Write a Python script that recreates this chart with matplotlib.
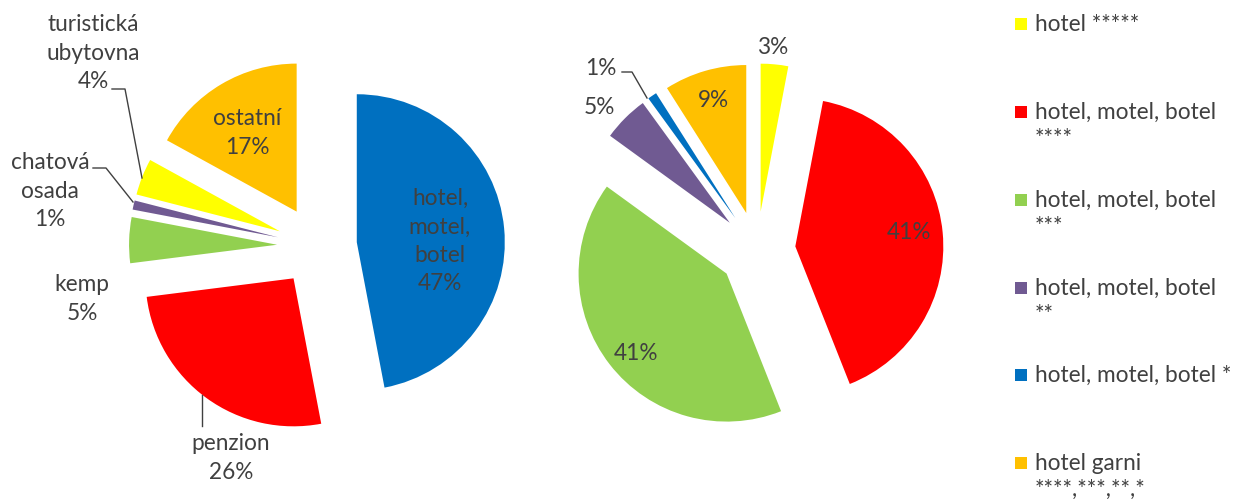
import matplotlib
matplotlib.use("Agg")
import matplotlib.pyplot as plt
from matplotlib.patches import Rectangle

plt.rcParams['font.family'] = ['Lato', 'DejaVu Sans']

# ---- data ----
left_labels = ["hotel,\nmotel,\nbotel", "penzion", "kemp", "chatová\nosada", "turistická\nubytovna", "ostatní"]
left_values = [47, 26, 5, 1, 4, 17]
left_colors = ["#0070C0", "#FF0000", "#92D050", "#705A92", "#FFFF00", "#FFC000"]

right_labels = ["hotel *****", "hotel, motel, botel\n****", "hotel, motel, botel\n***",
                "hotel, motel, botel\n**", "hotel, motel, botel *", "hotel garni\n****,***,**,*"]
right_values = [3, 41, 41, 5, 1, 9]
right_colors = ["#FFFF00", "#FF0000", "#92D050", "#705A92", "#0070C0", "#FFC000"]

W, H = 1235, 499
R = 148.0  # pie radius in pixels
TXT = "#404040"
FS = 16.3

fig = plt.figure(figsize=(W / 100, H / 100), dpi=100)


def make_axes(x0, x1, cx, cy):
    ax = fig.add_axes([x0 / W, 0, (x1 - x0) / W, 1])
    ax.set_axis_off()
    return ax


def fix_limits(ax, x0, x1, cx, cy):
    ax.set_xlim((x0 - cx) / R, (x1 - cx) / R)
    ax.set_ylim((cy - H) / R, cy / R)
    ax.set_aspect('auto')


def P(cx, cy, px, py):
    return ((px - cx) / R, (cy - py) / R)


# ---- left pie ----
lcx, lcy = 317, 246
axL = make_axes(0, 560, lcx, lcy)
axL.pie(left_values, colors=left_colors, startangle=90, counterclock=False,
        explode=[0.27] * len(left_values), radius=1.0,
        wedgeprops=dict(linewidth=0))
fix_limits(axL, 0, 560, lcx, lcy)

left_label_pos = [(440, 241), (231, 458), (82, 299), (50, 191), (93, 53), (247, 133)]
for lab, v, (px, py) in zip(left_labels, left_values, left_label_pos):
    axL.text(*P(lcx, lcy, px, py), f"{lab}\n{v}%", ha='center', va='center',
             fontsize=FS, color=TXT, linespacing=1.42)

for pts in ([(202, 395), (202, 426)],
            [(93, 168), (106, 168), (133, 202)],
            [(112, 89), (125, 89), (142, 178)]):
    xs, ys = zip(*[P(lcx, lcy, a, b) for a, b in pts])
    axL.plot(xs, ys, color="#404040", lw=1)

# ---- right pie ----
rcx, rcy = 757, 250
axR = make_axes(560, 1000, rcx, rcy)
axR.pie(right_values, colors=right_colors, startangle=90, counterclock=False,
        explode=[0.26] * len(right_values), radius=1.0,
        wedgeprops=dict(linewidth=0))
fix_limits(axR, 560, 1000, rcx, rcy)

right_label_pos = [(773, 47), (909, 232), (636, 353), (599, 107), (601, 68), (713, 100)]
for v, (px, py) in zip(right_values, right_label_pos):
    axR.text(*P(rcx, rcy, px, py), f"{v}%", ha='center', va='center',
             fontsize=FS, color=TXT)

xs, ys = zip(*[P(rcx, rcy, a, b) for a, b in [(622, 72), (632, 72), (647, 98)]])
axR.plot(xs, ys, color="#404040", lw=1)

# ---- legend ----
leg_y = [24, 112, 200, 288, 375, 463]
for lab, col, y in zip(right_labels, right_colors, leg_y):
    fig.patches.append(Rectangle((1015 / W, 1 - (y + 6) / H), 12 / W, 12 / H,
                                 transform=fig.transFigure, facecolor=col,
                                 edgecolor='none'))
    fig.text(1035 / W, 1 - (y - 10) / H, lab, ha='left', va='top',
             fontsize=FS, color=TXT, linespacing=1.3)

fig.savefig("out.png", dpi=100, facecolor='white')
